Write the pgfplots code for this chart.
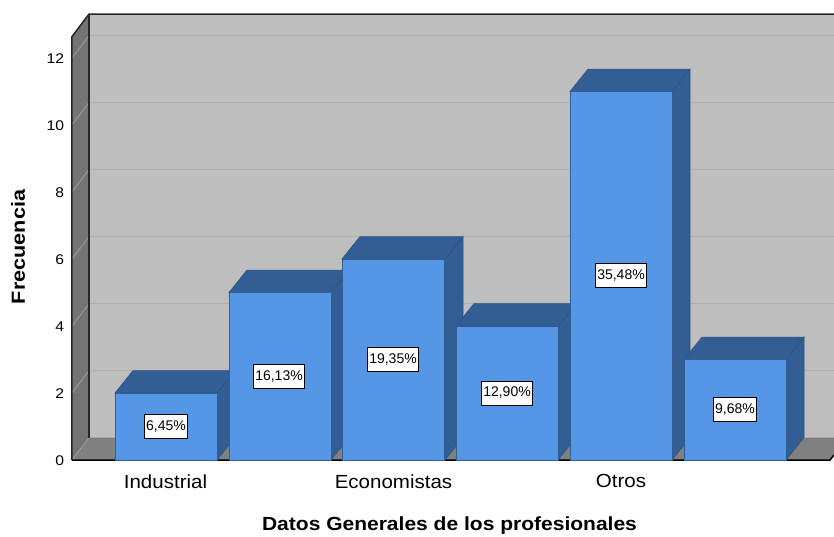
\documentclass[border=0pt]{standalone}
\usepackage{pgfplots}
\usepackage{fontspec}
\setmainfont{Liberation Sans}
\pgfplotsset{compat=1.18}
\definecolor{barfront}{HTML}{5596E6}
\definecolor{bardark}{HTML}{335E94}
\definecolor{backwall}{HTML}{BEBEBE}
\definecolor{sidewall}{HTML}{747474}
\definecolor{floorc}{HTML}{808080}
\definecolor{gridb}{HTML}{B0B0B0}
\definecolor{gridw}{HTML}{9E9E9E}
\begin{document}
\begin{tikzpicture}[x=1pt,y=1pt]
\begin{axis}[
  anchor=south west, at={(0pt,0pt)},
  x=1pt, y=33.5pt,
  xmin=72, xmax=834, ymin=0, ymax=13.31,
  axis line style={draw=none},
  clip=false,
  tick style={draw=none},
  ytick={0,2,4,6,8,10,12},
  xtick={165.5,393.5,621},
  xticklabels={Industrial,Economistas,Otros},
  ticklabel pos=left,
  /pgf/number format/assume math mode=true,
  y tick label style={font=\fontsize{14}{16}\selectfont, xshift=-4pt, yshift=-0.7pt, xscale=1.12},
  x tick label style={font=\fontsize{19}{22}\selectfont, yshift=-11pt, xscale=1.08},
  xlabel={\fontsize{19}{20}\selectfont\bfseries Datos Generales de los profesionales},
  xlabel style={at={(axis cs:449.5,-1.95)},anchor=center,xscale=1.106},
  ylabel={\fontsize{19}{20}\selectfont\bfseries Frecuencia},
  ylabel style={at={(axis cs:18,6.36)},anchor=center,rotate=0,xscale=1.14},
  axis on top=false,
]
% walls
\addplot[fill=backwall,draw=none] coordinates {(89,0.67)(834,0.67)(834,13.31)(89,13.31)} -- cycle;
\addplot[fill=sidewall,draw=none] coordinates {(72,0)(89,0.67)(89,13.31)(72,12.64)} -- cycle;
\addplot[fill=floorc,draw=none] coordinates {(72,0)(830,0)(834,0.15)(834,0.67)(89,0.67)} -- cycle;
% grid on back wall
\addplot[gridb,line width=1.3pt] coordinates {(89,2.67)(834,2.67)};
\addplot[gridb,line width=1.3pt] coordinates {(89,4.67)(834,4.67)};
\addplot[gridb,line width=1.3pt] coordinates {(89,6.67)(834,6.67)};
\addplot[gridb,line width=1.3pt] coordinates {(89,8.67)(834,8.67)};
\addplot[gridb,line width=1.3pt] coordinates {(89,10.67)(834,10.67)};
\addplot[gridb,line width=1.3pt] coordinates {(89,12.67)(834,12.67)};
% grid on side wall
\addplot[gridw,line width=0.8pt] coordinates {(72,0)(89,0.67)};
\addplot[gridw,line width=0.8pt] coordinates {(72,2)(89,2.67)};
\addplot[gridw,line width=0.8pt] coordinates {(72,4)(89,4.67)};
\addplot[gridw,line width=0.8pt] coordinates {(72,6)(89,6.67)};
\addplot[gridw,line width=0.8pt] coordinates {(72,8)(89,8.67)};
\addplot[gridw,line width=0.8pt] coordinates {(72,10)(89,10.67)};
\addplot[gridw,line width=0.8pt] coordinates {(72,12)(89,12.67)};
% frame lines
\addplot[black!85,line width=1.5pt] coordinates {(72,0)(72,12.64)(89,13.31)(834,13.31)};
\addplot[black!85,line width=1.5pt] coordinates {(89,0.67)(89,13.31)};
\addplot[black,line width=1.5pt] coordinates {(72,0)(830,0)(834,0.15)};
% depth faces of the bars
\addplot[fill=bardark,draw=bardark!90!black,line width=0.6pt] coordinates {(217,0)(235,0.67)(235,2.67)(217,2)} -- cycle;
\addplot[fill=bardark,draw=bardark!90!black,line width=0.6pt] coordinates {(115,2)(217,2)(235,2.67)(133,2.67)} -- cycle;
\addplot[fill=bardark,draw=bardark!90!black,line width=0.6pt] coordinates {(331,0)(349,0.67)(349,5.67)(331,5)} -- cycle;
\addplot[fill=bardark,draw=bardark!90!black,line width=0.6pt] coordinates {(229,5)(331,5)(349,5.67)(247,5.67)} -- cycle;
\addplot[fill=bardark,draw=bardark!90!black,line width=0.6pt] coordinates {(445,0)(463,0.67)(463,6.67)(445,6)} -- cycle;
\addplot[fill=bardark,draw=bardark!90!black,line width=0.6pt] coordinates {(342,6)(445,6)(463,6.67)(360,6.67)} -- cycle;
\addplot[fill=bardark,draw=bardark!90!black,line width=0.6pt] coordinates {(558,0)(576,0.67)(576,4.67)(558,4)} -- cycle;
\addplot[fill=bardark,draw=bardark!90!black,line width=0.6pt] coordinates {(456,4)(558,4)(576,4.67)(474,4.67)} -- cycle;
\addplot[fill=bardark,draw=bardark!90!black,line width=0.6pt] coordinates {(672,0)(690,0.67)(690,11.67)(672,11)} -- cycle;
\addplot[fill=bardark,draw=bardark!90!black,line width=0.6pt] coordinates {(570,11)(672,11)(690,11.67)(588,11.67)} -- cycle;
\addplot[fill=bardark,draw=bardark!90!black,line width=0.6pt] coordinates {(786,0)(804,0.67)(804,3.67)(786,3)} -- cycle;
\addplot[fill=bardark,draw=bardark!90!black,line width=0.6pt] coordinates {(684,3)(786,3)(804,3.67)(702,3.67)} -- cycle;
% front faces
\addplot[ybar,bar width=102pt,bar shift=0pt,fill=barfront,draw=bardark,line width=0.6pt]
  coordinates {(166,2)(280,5)(393.5,6)(507,4)(621,11)(735,3)};
% percentage labels
\addplot[only marks,mark=none,draw=none,
  nodes near coords,point meta=explicit symbolic,
  every node near coord/.style={anchor=center,fill=white,draw=black,line width=0.9pt,
    font=\fontsize{14}{15}\selectfont,inner xsep=1.5pt,inner ysep=2pt,minimum height=24pt}]
  table[meta=label,row sep=\\] {
  x y label\\
  166 1 {6,45\%}\\
  279 2.5 {16,13\%}\\
  393 3 {19,35\%}\\
  507 2 {12,90\%}\\
  621 5.5 {35,48\%}\\
  735 1.5 {9,68\%}\\
  };
\end{axis}
\pgfresetboundingbox
\path[use as bounding box] (-72pt,-76pt) rectangle (762pt,460pt);
\end{tikzpicture}
\end{document}
